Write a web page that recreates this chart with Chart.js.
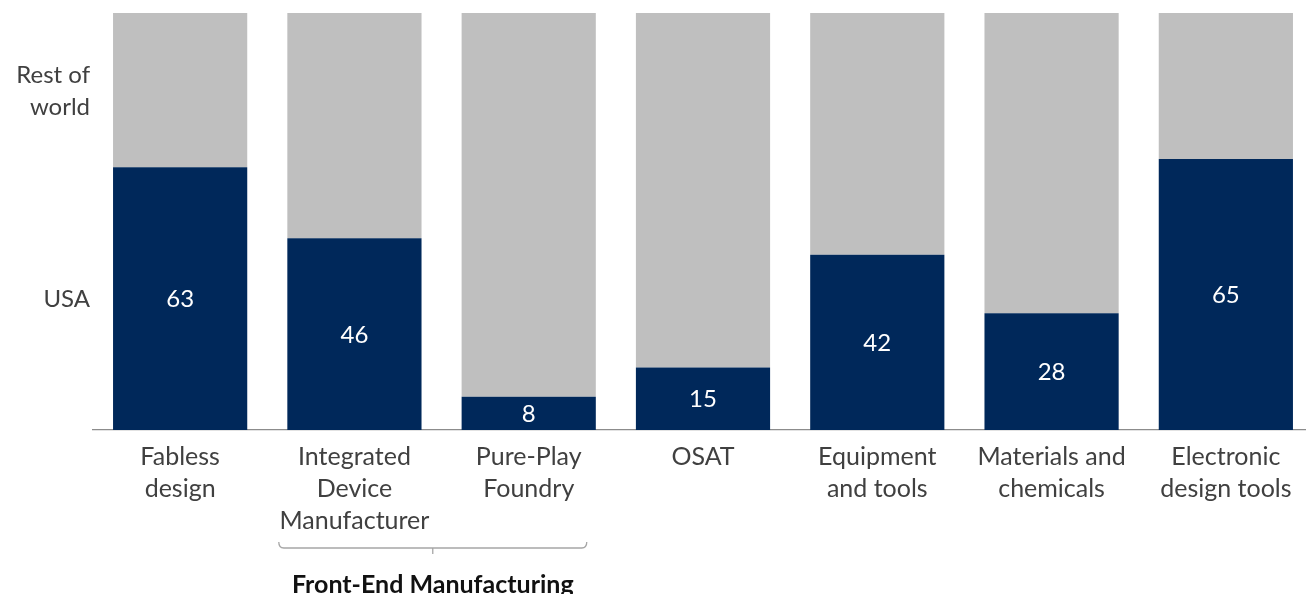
<!DOCTYPE html>
<html>
<head>
<meta charset="utf-8">
<script src="https://cdn.jsdelivr.net/npm/chart.js@4/dist/chart.umd.min.js"></script>
<style>
  html, body { margin: 0; padding: 0; background: #fff; overflow: hidden; }
  #wrap { width: 1313px; height: 594px; }
</style>
</head>
<body>
<div id="wrap"><canvas id="myChart" width="1313" height="594"></canvas></div>
<script>
const categories = [
    ["Fabless", "design"],
    ["Integrated", "Device", "Manufacturer"],
    ["Pure-Play", "Foundry"],
    ["OSAT"],
    ["Equipment", "and tools"],
    ["Materials and", "chemicals"],
    ["Electronic", "design tools"]
];
const usaShare = [63, 46, 8, 15, 42, 28, 65];
const restShare = [37, 54, 92, 85, 58, 72, 35];
const seriesNames = [["USA"], ["Rest of", "world"]];
const groupLabel = "Front-End Manufacturing";

const NAVY = "#00285a";
const GREY = "#bfbfbf";
const TEXT = "#404040";
const FONT = "Lato, 'Open Sans', sans-serif";

// value labels inside the USA bars + series names left of the first bar
const labelsPlugin = {
    id: "labels",
    afterDatasetsDraw(chart) {
        const c = chart.ctx;
        c.save();
        c.textAlign = "center";
        c.textBaseline = "middle";
        c.fillStyle = "#ffffff";
        c.font = "24px " + FONT;
        chart.getDatasetMeta(0).data.forEach((bar, i) => {
            const mid = (bar.y + bar.base) / 2;
            c.fillText(String(usaShare[i]), bar.x, mid + 1);
        });

        c.textAlign = "right";
        c.fillStyle = TEXT;
        c.font = "24px " + FONT;
        [0, 1].forEach(d => {
            const bar = chart.getDatasetMeta(d).data[0];
            const mid = (bar.y + bar.base) / 2;
            const lines = seriesNames[d];
            const lh = 32;
            const x = bar.x - bar.width / 2 - 23;
            lines.forEach((ln, k) => {
                c.fillText(ln, x, mid + (k - (lines.length - 1) / 2) * lh + 1);
            });
        });
        c.restore();
    },
    afterDraw(chart) {
        const c = chart.ctx;
        const xs = chart.scales.x;
        const w = xs.getPixelForValue(1) - xs.getPixelForValue(0);
        const left = xs.getPixelForValue(1) - w * 0.434;
        const right = xs.getPixelForValue(2) + w * 0.333;
        const mid = (left + right) / 2;
        const y = 548;
        c.save();
        c.strokeStyle = "#a6a6a6";
        c.lineWidth = 1.3;
        c.beginPath();
        c.moveTo(left, y - 6);
        c.quadraticCurveTo(left, y, left + 5, y);
        c.lineTo(right - 5, y);
        c.quadraticCurveTo(right, y, right, y - 6);
        c.moveTo(mid, y);
        c.lineTo(mid, y + 6);
        c.stroke();
        c.fillStyle = "#111111";
        c.font = "bold 25px " + FONT;
        c.textAlign = "center";
        c.textBaseline = "alphabetic";
        c.fillText(groupLabel, mid, 593);
        c.restore();
    }
};

const ctx = document.getElementById("myChart");
const myChart = new Chart(ctx, {
    type: "bar",
    data: {
        labels: categories,
        datasets: [{
            label: "USA",
            data: usaShare,
            backgroundColor: NAVY,
            borderWidth: 0
        }, {
            label: "Rest of world",
            data: restShare,
            backgroundColor: GREY,
            borderWidth: 0
        }]
    },
    options: {
        responsive: false,
        animation: false,
        layout: { padding: { left: 93, top: 13, right: 0, bottom: 0 } },
        datasets: { bar: { categoryPercentage: 1.0, barPercentage: 0.77 } },
        plugins: {
            legend: { display: false },
            tooltip: { enabled: false }
        },
        scales: {
            x: {
                stacked: true,
                grid: { display: false, drawTicks: false },
                border: { display: true, color: "#8c8c8c", width: 1.3 },
                ticks: {
                    color: TEXT,
                    font: { family: FONT, size: 25, lineHeight: 1.28 },
                    padding: 11,
                    maxRotation: 0,
                    autoSkip: false
                },
                afterFit: s => { s.height = 164; }
            },
            y: {
                stacked: true,
                display: false,
                min: 0,
                max: 100
            }
        }
    },
    plugins: [labelsPlugin]
});
</script>
</body>
</html>
